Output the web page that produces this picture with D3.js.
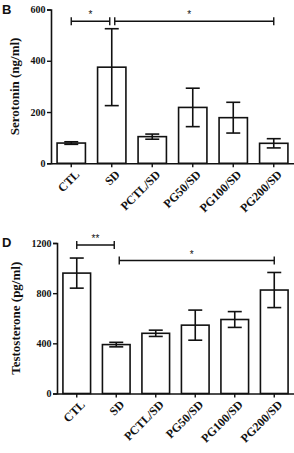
<!DOCTYPE html>
<html>
<head>
<meta charset="utf-8">
<script src="https://cdn.jsdelivr.net/npm/d3@7"></script>
<style>
  body { margin: 0; background: #fff; }
  svg { display: block; }
  .tick text { font-family: "Liberation Serif", "DejaVu Serif", serif; font-weight: bold; }
</style>
</head>
<body>
<script>
// groupes
const groups = ["CTL", "SD", "PCTL/SD", "PG50/SD", "PG100/SD", "PG200/SD"]

// panneau B : sérotonine (ng/ml)
const serotonin = [79, 375, 104, 218, 178, 78]
const serotoninErr = [5, 150, 10, 75, 60, 18]
const serotoninTicks = [0, 200, 400, 600]
const serotoninSig = [
    { from: "CTL", to: "SD", label: "*", level: 554 },
    { from: "SD", to: "PG200/SD", label: "*", level: 554 }
]

// panneau D : testostérone (pg/ml)
const testosterone = [960, 390, 480, 545, 590, 825]
const testosteroneErr = [120, 18, 25, 120, 63, 140]
const testosteroneTicks = [0, 400, 800, 1200]
const testosteroneSig = [
    { from: "CTL", to: "SD", label: "**", level: 1184 },
    { from: "SD", to: "PG200/SD", label: "*", level: 1060 }
]

const W = 294, H = 453

const svg = d3.select("body")
    .append("svg")
    .attr("width", W)
    .attr("height", H)

function panel(opts) {
    const g = svg.append("g")

    const x = d3.scaleBand()
        .domain(groups)
        .range([opts.left, W])
        .paddingInner(0.3)
        .paddingOuter(0.15)

    const y = d3.scaleLinear()
        .domain([0, opts.max])
        .range([opts.bottom, opts.top])

    const data = groups.map((k, i) => ({ k: k, v: opts.values[i], e: opts.errors[i] }))

    // barres
    g.selectAll("rect.bar")
        .data(data)
        .join("rect")
        .attr("class", "bar")
        .attr("x", d => x(d.k))
        .attr("y", d => y(d.v))
        .attr("width", x.bandwidth())
        .attr("height", d => y(0) - y(d.v))
        .attr("fill", "#fff")
        .attr("stroke", "#111")
        .attr("stroke-width", 1.6)

    // barres d'erreur
    const cap = 7
    const eb = g.selectAll("g.err")
        .data(data)
        .join("g")
        .attr("class", "err")
        .attr("stroke", "#111")
        .attr("stroke-width", 1.6)
    eb.append("line")
        .attr("x1", d => x(d.k) + x.bandwidth() / 2)
        .attr("x2", d => x(d.k) + x.bandwidth() / 2)
        .attr("y1", d => y(d.v - d.e))
        .attr("y2", d => y(d.v + d.e))
    eb.append("line")
        .attr("x1", d => x(d.k) + x.bandwidth() / 2 - cap)
        .attr("x2", d => x(d.k) + x.bandwidth() / 2 + cap)
        .attr("y1", d => y(d.v + d.e))
        .attr("y2", d => y(d.v + d.e))
    eb.append("line")
        .attr("x1", d => x(d.k) + x.bandwidth() / 2 - cap)
        .attr("x2", d => x(d.k) + x.bandwidth() / 2 + cap)
        .attr("y1", d => y(d.v - d.e))
        .attr("y2", d => y(d.v - d.e))

    // axe Y
    const ya = g.append("g")
        .attr("transform", "translate(" + opts.left + ",0)")
        .call(d3.axisLeft(y).tickValues(opts.ticks).tickFormat(d3.format("d")).tickSize(4).tickPadding(1.5))
    ya.select(".domain").attr("stroke", "#111").attr("stroke-width", 1.6)
    ya.selectAll(".tick line").attr("stroke", "#111").attr("stroke-width", 1.4)
    ya.selectAll(".tick text").attr("font-size", 10).attr("fill", "#111")

    // axe X
    const xa = g.append("g")
        .attr("transform", "translate(0," + opts.bottom + ")")
        .call(d3.axisBottom(x).tickSize(4).tickSizeOuter(0))
    xa.select(".domain").attr("stroke", "#111").attr("stroke-width", 1.6)
    xa.selectAll(".tick line").attr("stroke", "#111").attr("stroke-width", 1.4)
    xa.selectAll(".tick text")
        .attr("font-size", 12)
        .attr("fill", "#111")
        .attr("text-anchor", "end")
        .attr("dy", "0.35em")
        .attr("transform", "translate(6,9) rotate(-45)")
        .attr("y", 0)

    // titre axe Y
    g.append("text")
        .attr("transform", "translate(" + opts.labelX + "," + ((opts.top + opts.bottom) / 2) + ") rotate(-90)")
        .attr("text-anchor", "middle")
        .attr("font-family", "Liberation Serif, DejaVu Serif, serif")
        .attr("font-weight", "bold")
        .attr("font-size", 13)
        .attr("fill", "#111")
        .text(opts.label)

    // lettre du panneau
    g.append("text")
        .attr("x", 2)
        .attr("y", opts.top + 4)
        .attr("font-family", "Liberation Sans, Arial, sans-serif")
        .attr("font-weight", "bold")
        .attr("font-size", 13)
        .attr("fill", "#111")
        .text(opts.letter)

    // significativité
    opts.sig.forEach((s, i) => {
        const cx1 = x(s.from) + x.bandwidth() / 2 + (i > 0 ? 3 : 0)
        const cx2 = x(s.to) + x.bandwidth() / 2 - (i == 0 && s.to == "SD" ? 2 : 0)
        const yy = y(s.level)
        const sg = g.append("g").attr("stroke", "#111").attr("stroke-width", 1.4)
        sg.append("line").attr("x1", cx1).attr("x2", cx2).attr("y1", yy).attr("y2", yy)
        sg.append("line").attr("x1", cx1).attr("x2", cx1).attr("y1", yy - 4).attr("y2", yy + 4)
        sg.append("line").attr("x1", cx2).attr("x2", cx2).attr("y1", yy - 4).attr("y2", yy + 4)
        g.append("text")
            .attr("x", (cx1 + cx2) / 2 - (i > 0 ? 5 : 0))
            .attr("y", yy - 3)
            .attr("text-anchor", "middle")
            .attr("font-family", "Liberation Sans, Arial, sans-serif")
            .attr("font-size", 10)
            .attr("fill", "#111")
            .text(s.label)
    })
}

panel({
    letter: "B", label: "Serotonin (ng/ml)",
    values: serotonin, errors: serotoninErr, ticks: serotoninTicks, sig: serotoninSig,
    max: 600, left: 51, top: 9.5, bottom: 163.3, labelX: 19
})

panel({
    letter: "D", label: "Testosterone (pg/ml)",
    values: testosterone, errors: testosteroneErr, ticks: testosteroneTicks, sig: testosteroneSig,
    max: 1200, left: 57, top: 243, bottom: 393.5, labelX: 20
})
</script>
</body>
</html>
